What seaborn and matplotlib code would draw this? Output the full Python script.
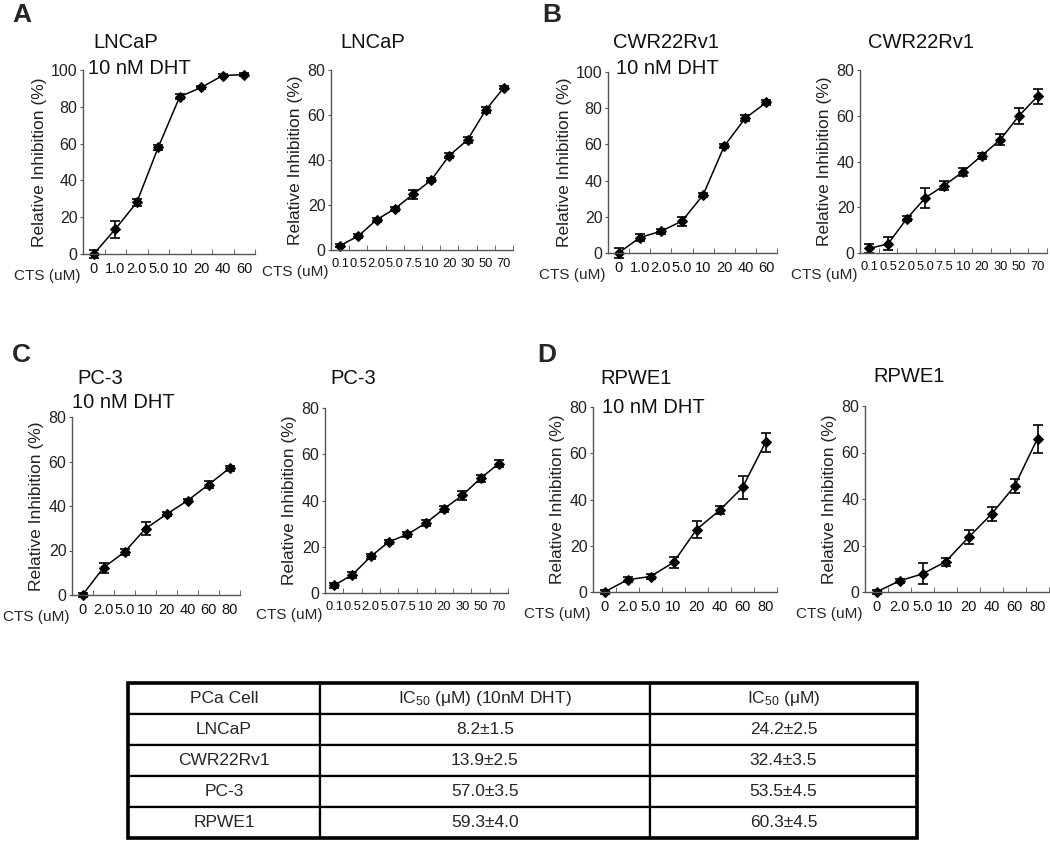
import numpy as np
import pandas as pd
import matplotlib
matplotlib.use("Agg")
import matplotlib.pyplot as plt
import seaborn as sns

# x categories (CTS dose, uM)
dht_doses = ["0", "1.0", "2.0", "5.0", "10", "20", "40", "60"]
wide_doses = ["0.1", "0.5", "2.0", "5.0", "7.5", "10", "20", "30", "50", "70"]
low_doses = ["0", "2.0", "5.0", "10", "20", "40", "60", "80"]

# relative inhibition (%) and error bars
lncap_dht = [0, 13.5, 28, 58, 85.5, 90.5, 97, 97.5]
lncap_dht_err = [2, 4.7, 1.8, 1.5, 1.5, 0.8, 0.6, 0.6]
lncap = [2, 6.2, 13.4, 18.3, 24.7, 31, 42, 48.9, 62.2, 72.2]
lncap_err = [0.5, 0.8, 0.8, 1, 2, 0.8, 1.2, 1.5, 1.5, 0.8]

cwr_dht = [0, 8.5, 12, 17.6, 32, 59, 74.5, 83.2]
cwr_dht_err = [3, 2, 1.3, 2.5, 1, 1, 1.5, 1.3]
cwr = [2, 4, 15, 24.2, 29.5, 35.5, 42.5, 49.5, 60, 68.5]
cwr_err = [2, 2.9, 1, 4.4, 2, 1.7, 1.2, 2.5, 3.4, 3.4]

pc3_dht = [0, 12.3, 19.3, 29.8, 36.3, 42.4, 49.6, 57]
pc3_dht_err = [1, 2.2, 1.2, 3, 1, 0.7, 1.5, 1.2]
pc3 = [3.3, 7.9, 15.8, 22.2, 25.3, 30.2, 36.4, 42.2, 49.6, 56]
pc3_err = [1, 1.2, 1, 0.8, 1, 1.2, 1.2, 2, 1.5, 1.5]

rpwe_dht = [0, 5.3, 6.7, 12.8, 27, 35.3, 45.2, 64.7]
rpwe_dht_err = [1, 1, 1, 2.5, 3.5, 1.7, 4.8, 4]
rpwe = [0, 4.8, 7.8, 13, 23.5, 33.5, 45.5, 66]
rpwe_err = [1, 0.8, 4.5, 1.8, 3, 3, 3, 6]

# IC50 table
table_header = ["PCa Cell", "IC$_{\\mathrm{50}}$ (\u03bcM) (10nM DHT)", "IC$_{\\mathrm{50}}$ (\u03bcM)"]
cell_names = ["LNCaP", "CWR22Rv1", "PC-3", "RPWE1"]
ic50_dht = ["8.2\u00b11.5", "13.9\u00b12.5", "57.0\u00b13.5", "59.3\u00b14.0"]
ic50_plain = ["24.2\u00b12.5", "32.4\u00b13.5", "53.5\u00b14.5", "60.3\u00b14.5"]

sns.set_style("ticks")
plt.rcParams["font.family"] = ["Liberation Sans", "DejaVu Sans"]
plt.rcParams["mathtext.fontset"] = "custom"
plt.rcParams["mathtext.rm"] = "Liberation Sans"
plt.rcParams["mathtext.it"] = "Liberation Sans"

W, H = 1050, 841
fig = plt.figure(figsize=(W / 100, H / 100), dpi=100)


def px_axes(left, right, top, bottom):
    return fig.add_axes([left / W, 1 - bottom / H, (right - left) / W, (bottom - top) / H])


def px_text(x, y, s, **kw):
    fig.text(x / W, 1 - y / H, s, **kw)


def draw_panel(ax, doses, vals, errs, ymax):
    df = pd.DataFrame({"pos": np.arange(len(doses)), "val": vals, "err": errs})
    sns.lineplot(data=df, x="pos", y="val", ax=ax, color="black", linewidth=1.1,
                 marker="D", markersize=5, markeredgecolor="black", clip_on=False)
    ax.errorbar(df["pos"], df["val"], yerr=df["err"], fmt="none", ecolor="black",
                elinewidth=1.2, capsize=3.5, capthick=1.2, clip_on=False)
    n = len(doses)
    ax.set_xlim(-0.5, n - 0.5)
    ax.set_ylim(0, ymax)
    ax.set_yticks(np.arange(0, ymax + 1, 20))
    ax.set_xticks(np.arange(n))
    ax.set_xticklabels(doses)
    ax.set_xticks(np.arange(n + 1) - 0.5, minor=True)
    xsize = 9.3 if n > 8 else 10.5
    ax.tick_params(axis="x", which="major", length=0, labelsize=xsize, pad=6, labelcolor="#111111")
    ax.tick_params(axis="x", which="minor", length=3.5, direction="in", color="#555555")
    ax.tick_params(axis="y", length=2, labelsize=11.5, labelcolor="#222222", color="#555555", pad=2)
    for s in ["top", "right"]:
        ax.spines[s].set_visible(False)
    for s in ["left", "bottom"]:
        ax.spines[s].set_color("#555555")
        ax.spines[s].set_linewidth(1.0)
    ax.set_xlabel("")
    ax.set_ylabel("Relative Inhibition (%)", fontsize=12.5, labelpad=3, color="#222222")
    ax.annotate("CTS (uM)", xy=(0, 0), xycoords="axes fraction", xytext=(-2, -15.5),
                textcoords="offset points", ha="right", va="center", fontsize=11)


panels = [
    ((83, 255, 70, 254), dht_doses, lncap_dht, lncap_dht_err, 100),
    ((331, 513, 70, 250), wide_doses, lncap, lncap_err, 80),
    ((608, 777, 72, 253), dht_doses, cwr_dht, cwr_dht_err, 100),
    ((860, 1047, 70, 253), wide_doses, cwr, cwr_err, 80),
    ((72, 240, 417, 595), low_doses, pc3_dht, pc3_dht_err, 80),
    ((325, 508, 408, 593), wide_doses, pc3, pc3_err, 80),
    ((593, 777, 407, 592), low_doses, rpwe_dht, rpwe_dht_err, 80),
    ((865, 1049, 406, 592), low_doses, rpwe, rpwe_err, 80),
]
for box, doses, vals, errs, ymax in panels:
    draw_panel(px_axes(*box), doses, vals, errs, ymax)

# panel titles
tkw = dict(fontsize=14.5, ha="left", va="center", color="#111111")
px_text(93, 43, "LNCaP", **tkw)
px_text(88, 68, "10 nM DHT", **tkw)
px_text(340, 43, "LNCaP", **tkw)
px_text(613, 43, "CWR22Rv1", **tkw)
px_text(616, 69, "10 nM DHT", **tkw)
px_text(868, 43, "CWR22Rv1", **tkw)
px_text(77, 378, "PC-3", **tkw)
px_text(72, 402, "10 nM DHT", **tkw)
px_text(330, 378, "PC-3", **tkw)
px_text(600, 378, "RPWE1", **tkw)
px_text(602, 408, "10 nM DHT", **tkw)
px_text(873, 377, "RPWE1", **tkw)

# panel letters
lkw = dict(fontsize=19, fontweight="bold", ha="left", va="center")
px_text(12, 15, "A", **lkw)
px_text(542, 15, "B", **lkw)
px_text(12, 355, "C", **lkw)
px_text(537, 355, "D", **lkw)

# IC50 table
ax_t = px_axes(128, 917, 683, 838)
ax_t.axis("off")
rows = [[c, a, b] for c, a, b in zip(cell_names, ic50_dht, ic50_plain)]
tbl = ax_t.table(cellText=rows, colLabels=table_header, cellLoc="center",
                 colWidths=[192, 330, 267], bbox=[0, 0, 1, 1])
tbl.auto_set_font_size(False)
for (r, c), cell in tbl.get_celld().items():
    cell.set_linewidth(1.6)
    cell.set_edgecolor("black")
    cell.get_text().set_fontsize(12.5)
ax_t.add_patch(plt.Rectangle((0, 0), 1, 1, transform=ax_t.transAxes, fill=False,
                             lw=2.6, edgecolor="black", clip_on=False))

fig.savefig("out.png", dpi=100)
